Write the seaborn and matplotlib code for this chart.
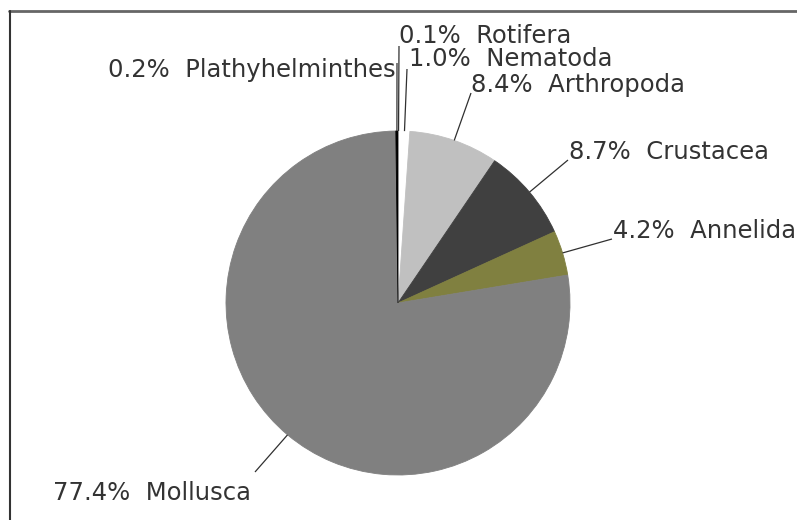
import numpy as np
import matplotlib
matplotlib.use('Agg')
import matplotlib.pyplot as plt
import seaborn as sns

sns.set_theme(style="white")
plt.rcParams['font.family'] = ['DejaVu Sans']

# --- dados ---
grupos = ['Rotifera', 'Nematoda', 'Arthropoda', 'Crustacea', 'Annelida', 'Mollusca', 'Plathyhelminthes']
percentuais = [0.1, 1.0, 8.4, 8.7, 4.2, 77.4, 0.2]
cores = ['#ffffff', '#ffffff', '#c0c0c0', '#404040', '#808040', '#808080', '#000000']

# --- layout (pixels, origem no canto superior esquerdo) ---
W, H = 797, 520
cx, cy, raio = 398, 303, 172
# ponta do traço junto ao rótulo
ponta_traco = [(399, 46), (407, 69), (471, 93), (568, 160), (612, 239), (255, 472), (397, 63)]
# posição do texto: (x, linha de base, alinhamento)
pos_texto = [(399, 43, 'left'), (409, 66, 'left'), (471, 92, 'left'), (569, 159, 'left'),
             (613, 238, 'left'), (53, 500, 'left'), (396, 77, 'right')]

fig = plt.figure(figsize=(W / 100, H / 100), dpi=100)
fig.patch.set_facecolor('white')

ax = fig.add_axes([(cx - raio) / W, (H - cy - raio) / H, 2 * raio / W, 2 * raio / H])
paleta = sns.color_palette(cores)
wedges, _ = ax.pie(percentuais, colors=paleta, startangle=90, counterclock=False,
                   radius=1, wedgeprops=dict(linewidth=0.6))
for w, c in zip(wedges, paleta):
    w.set_edgecolor(c)
ax.set_xlim(-1, 1)
ax.set_ylim(-1, 1)
ax.axis('off')

# camada por cima com coordenadas em pixels
ov = fig.add_axes([0, 0, 1, 1], facecolor='none')
ov.set_xlim(0, W)
ov.set_ylim(H, 0)
ov.axis('off')

for w, pct, nome, (lx, ly), (tx, ty, ha) in zip(wedges, percentuais, grupos, ponta_traco, pos_texto):
    meio = np.deg2rad((w.theta1 + w.theta2) / 2)
    dx, dy = ax.transData.transform((np.cos(meio), np.sin(meio)))
    ex, ey = dx, H - dy
    ov.plot([ex, lx], [ey, ly], color='#303030', lw=0.9, solid_capstyle='butt')
    ov.text(tx, ty, f'{pct:.1f}%  {nome}', ha=ha, va='baseline', fontsize=17.5, color='#333333')

# moldura (só topo e esquerda aparecem)
ov.plot([9, W], [11, 11], color='#666666', lw=2, clip_on=False)
ov.plot([10, 10], [11, H], color='#333333', lw=1.5, clip_on=False)

plt.savefig('out.png', dpi=100, facecolor='white')
